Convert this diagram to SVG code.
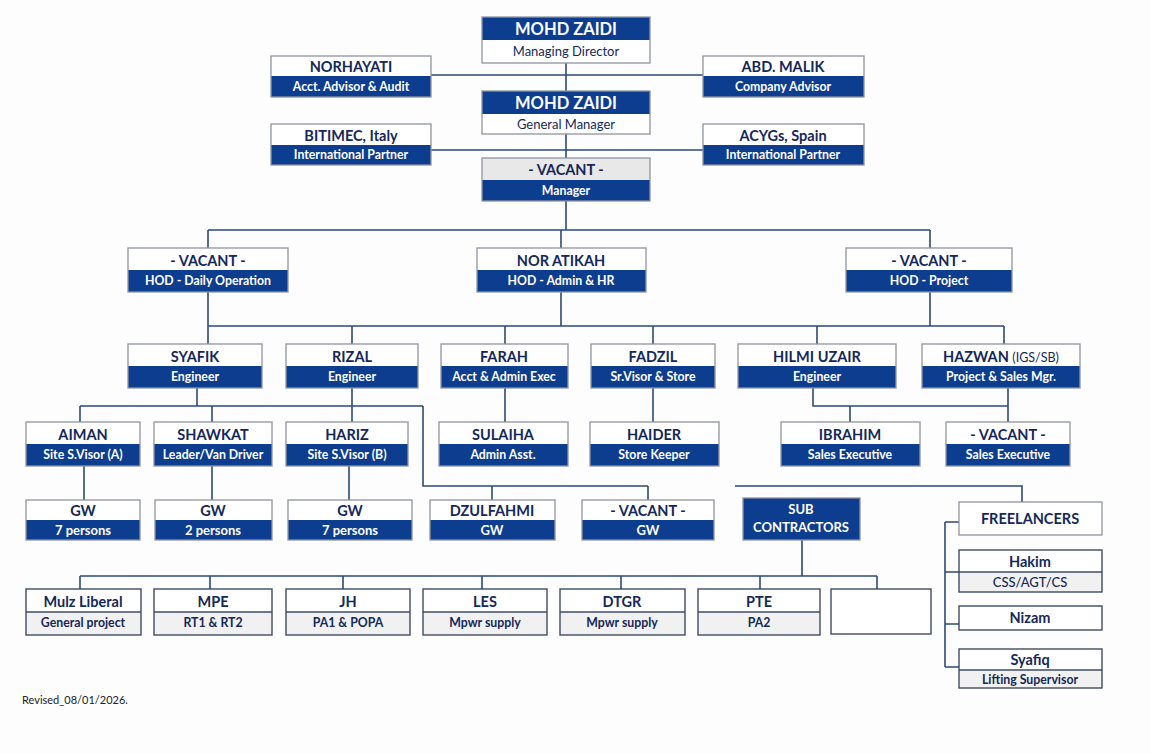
<svg xmlns="http://www.w3.org/2000/svg" width="1151" height="754" viewBox="0 0 1151 754">
<style>
.bg{fill:#fdfdfd}
.w{fill:#ffffff}
.b{fill:#0d3d8f}
.g{fill:#e8e8e8}
.lt{fill:#f1f1f1}
.ol{fill:none;stroke:#8f969f;stroke-width:1.3}
.od{fill:none;stroke:#3e4c63;stroke-width:1.4}
.n{font-family:Lato,"Open Sans",sans-serif;font-weight:bold;font-size:14.5px;fill:#14285a;text-anchor:middle}
.nw{font-family:Lato,"Open Sans",sans-serif;font-weight:bold;font-size:16.5px;fill:#ffffff;text-anchor:middle}
.s{font-family:Lato,"Open Sans",sans-serif;font-weight:bold;font-size:12.3px;fill:#ffffff;text-anchor:middle}
.sn{font-family:Lato,"Open Sans",sans-serif;font-size:13px;fill:#14285a;text-anchor:middle}
.sb{font-family:Lato,"Open Sans",sans-serif;font-weight:bold;font-size:12.3px;fill:#14285a;text-anchor:middle}
.p{font-family:Lato,"Open Sans",sans-serif;font-weight:bold;font-size:13px;fill:#ffffff;text-anchor:middle}
.c{fill:none;stroke:#2c4a74;stroke-width:1.6}
</style>
<rect class="bg" x="0" y="0" width="1151" height="754"/>

<g id="connectors">
<path class="c" d="M431 75H703M566 63V91M431 150H703M566 134V158M566 201V230M208 230H930M208 230V248M561 230V248M930 230V248"/>
<path class="c" d="M208 292V344M561 292V326M930 292V326M208 326H1004M352 326V344M505 326V344M653 326V344M817 326V344M1004 326V344"/>
<path class="c" d="M197 388V406M80 406H423M80 406V422M212 406V422M352 388V422M423 406V486H648M492 486V500M648 486V500M505 388V422M653 388V422M813 388V406H1008M850 406V422M1008 388V422"/>
<path class="c" d="M84 466V500M212 466V500M349 466V500"/>
<path class="c" d="M735 486H1022V502M802 540V576M80 576H877M80 576V589M210 576V589M343 576V589M482 576V589M621 576V589M760 576V589M877 576V589"/>
<path class="c" d="M945 522V667M945 522H959M945 572H959M945 624H959M945 667H959"/>
</g>

<g id="md"><rect class="b" x="482" y="17" width="168" height="23"/><rect class="w" x="482" y="40" width="168" height="23"/><rect class="ol" x="482" y="17" width="168" height="46"/><text class="nw" x="566" y="35">MOHD ZAIDI</text><text class="sn" x="566" y="56">Managing Director</text></g>
<g id="norhayati"><rect class="w" x="271" y="56" width="160" height="20"/><rect class="b" x="271" y="76" width="160" height="21"/><rect class="ol" x="271" y="56" width="160" height="41"/><text class="n" x="351" y="72">NORHAYATI</text><text class="s" x="351" y="91">Acct. Advisor &amp; Audit</text></g>
<g id="abdmalik"><rect class="w" x="703" y="56" width="161" height="20"/><rect class="b" x="703" y="76" width="161" height="21"/><rect class="ol" x="703" y="56" width="161" height="41"/><text class="n" x="783" y="72">ABD. MALIK</text><text class="s" x="783" y="91">Company Advisor</text></g>
<g id="gm"><rect class="b" x="482" y="91" width="168" height="23"/><rect class="w" x="482" y="114" width="168" height="20"/><rect class="ol" x="482" y="91" width="168" height="43"/><text class="nw" x="566" y="109">MOHD ZAIDI</text><text class="sn" x="566" y="129">General Manager</text></g>
<g id="bitimec"><rect class="w" x="271" y="124" width="160" height="21"/><rect class="b" x="271" y="145" width="160" height="20"/><rect class="ol" x="271" y="124" width="160" height="41"/><text class="n" x="351" y="141">BITIMEC, Italy</text><text class="s" x="351" y="159">International Partner</text></g>
<g id="acygs"><rect class="w" x="703" y="124" width="161" height="21"/><rect class="b" x="703" y="145" width="161" height="20"/><rect class="ol" x="703" y="124" width="161" height="41"/><text class="n" x="783" y="141">ACYGs, Spain</text><text class="s" x="783" y="159">International Partner</text></g>
<g id="manager"><rect class="g" x="482" y="158" width="168" height="22"/><rect class="b" x="482" y="180" width="168" height="21"/><rect class="ol" x="482" y="158" width="168" height="43"/><text class="n" x="566" y="175">- VACANT -</text><text class="s" x="566" y="195">Manager</text></g>

<g id="hod-daily"><rect class="w" x="128" y="248" width="160" height="22"/><rect class="b" x="128" y="270" width="160" height="22"/><rect class="ol" x="128" y="248" width="160" height="44"/><text class="n" x="208" y="266">- VACANT -</text><text class="s" x="208" y="285">HOD - Daily Operation</text></g>
<g id="hod-admin"><rect class="w" x="477" y="248" width="169" height="22"/><rect class="b" x="477" y="270" width="169" height="22"/><rect class="ol" x="477" y="248" width="169" height="44"/><text class="n" x="561" y="266">NOR ATIKAH</text><text class="s" x="561" y="285">HOD - Admin &amp; HR</text></g>
<g id="hod-project"><rect class="w" x="846" y="248" width="166" height="22"/><rect class="b" x="846" y="270" width="166" height="22"/><rect class="ol" x="846" y="248" width="166" height="44"/><text class="n" x="929" y="266">- VACANT -</text><text class="s" x="929" y="285">HOD - Project</text></g>

<g id="syafik"><rect class="w" x="128" y="344" width="134" height="22"/><rect class="b" x="128" y="366" width="134" height="22"/><rect class="ol" x="128" y="344" width="134" height="44"/><text class="n" x="195" y="362">SYAFIK</text><text class="s" x="195" y="381">Engineer</text></g>
<g id="rizal"><rect class="w" x="286" y="344" width="132" height="22"/><rect class="b" x="286" y="366" width="132" height="22"/><rect class="ol" x="286" y="344" width="132" height="44"/><text class="n" x="352" y="362">RIZAL</text><text class="s" x="352" y="381">Engineer</text></g>
<g id="farah"><rect class="w" x="441" y="344" width="127" height="22"/><rect class="b" x="441" y="366" width="127" height="22"/><rect class="ol" x="441" y="344" width="127" height="44"/><text class="n" x="504" y="362">FARAH</text><text class="s" x="504" y="381">Acct &amp; Admin Exec</text></g>
<g id="fadzil"><rect class="w" x="591" y="344" width="124" height="22"/><rect class="b" x="591" y="366" width="124" height="22"/><rect class="ol" x="591" y="344" width="124" height="44"/><text class="n" x="653" y="362">FADZIL</text><text class="s" x="653" y="381">Sr.Visor &amp; Store</text></g>
<g id="hilmi"><rect class="w" x="738" y="344" width="158" height="22"/><rect class="b" x="738" y="366" width="158" height="22"/><rect class="ol" x="738" y="344" width="158" height="44"/><text class="n" x="817" y="362">HILMI UZAIR</text><text class="s" x="817" y="381">Engineer</text></g>
<g id="hazwan"><rect class="w" x="922" y="344" width="158" height="22"/><rect class="b" x="922" y="366" width="158" height="22"/><rect class="ol" x="922" y="344" width="158" height="44"/><text class="n" x="1001" y="362">HAZWAN <tspan font-weight="normal" font-size="12.5">(IGS/SB)</tspan></text><text class="s" x="1001" y="381">Project &amp; Sales Mgr.</text></g>

<g id="aiman"><rect class="w" x="26" y="422" width="114" height="22"/><rect class="b" x="26" y="444" width="114" height="22"/><rect class="ol" x="26" y="422" width="114" height="44"/><text class="n" x="83" y="440">AIMAN</text><text class="s" x="83" y="459">Site S.Visor (A)</text></g>
<g id="shawkat"><rect class="w" x="154" y="422" width="118" height="22"/><rect class="b" x="154" y="444" width="118" height="22"/><rect class="ol" x="154" y="422" width="118" height="44"/><text class="n" x="213" y="440">SHAWKAT</text><text class="s" x="213" y="459">Leader/Van Driver</text></g>
<g id="hariz"><rect class="w" x="286" y="422" width="122" height="22"/><rect class="b" x="286" y="444" width="122" height="22"/><rect class="ol" x="286" y="422" width="122" height="44"/><text class="n" x="347" y="440">HARIZ</text><text class="s" x="347" y="459">Site S.Visor (B)</text></g>
<g id="sulaiha"><rect class="w" x="439" y="422" width="129" height="22"/><rect class="b" x="439" y="444" width="129" height="22"/><rect class="ol" x="439" y="422" width="129" height="44"/><text class="n" x="503" y="440">SULAIHA</text><text class="s" x="503" y="459">Admin Asst.</text></g>
<g id="haider"><rect class="w" x="590" y="422" width="129" height="22"/><rect class="b" x="590" y="444" width="129" height="22"/><rect class="ol" x="590" y="422" width="129" height="44"/><text class="n" x="654" y="440">HAIDER</text><text class="s" x="654" y="459">Store Keeper</text></g>
<g id="ibrahim"><rect class="w" x="781" y="422" width="139" height="22"/><rect class="b" x="781" y="444" width="139" height="22"/><rect class="ol" x="781" y="422" width="139" height="44"/><text class="n" x="850" y="440">IBRAHIM</text><text class="s" x="850" y="459">Sales Executive</text></g>
<g id="vacant-sales"><rect class="w" x="946" y="422" width="124" height="22"/><rect class="b" x="946" y="444" width="124" height="22"/><rect class="ol" x="946" y="422" width="124" height="44"/><text class="n" x="1008" y="440">- VACANT -</text><text class="s" x="1008" y="459">Sales Executive</text></g>

<g id="gw-a"><rect class="w" x="26" y="500" width="114" height="20"/><rect class="b" x="26" y="520" width="114" height="20"/><rect class="ol" x="26" y="500" width="114" height="40"/><text class="n" x="83" y="516">GW</text><text class="p" x="83" y="535">7 persons</text></g>
<g id="gw-shawkat"><rect class="w" x="155" y="500" width="117" height="20"/><rect class="b" x="155" y="520" width="117" height="20"/><rect class="ol" x="155" y="500" width="117" height="40"/><text class="n" x="213" y="516">GW</text><text class="p" x="213" y="535">2 persons</text></g>
<g id="gw-b"><rect class="w" x="288" y="500" width="124" height="20"/><rect class="b" x="288" y="520" width="124" height="20"/><rect class="ol" x="288" y="500" width="124" height="40"/><text class="n" x="350" y="516">GW</text><text class="p" x="350" y="535">7 persons</text></g>
<g id="dzulfahmi"><rect class="w" x="430" y="500" width="125" height="20"/><rect class="b" x="430" y="520" width="125" height="20"/><rect class="ol" x="430" y="500" width="125" height="40"/><text class="n" x="492" y="516">DZULFAHMI</text><text class="p" x="492" y="535">GW</text></g>
<g id="vacant-gw"><rect class="w" x="582" y="500" width="132" height="20"/><rect class="b" x="582" y="520" width="132" height="20"/><rect class="ol" x="582" y="500" width="132" height="40"/><text class="n" x="648" y="516">- VACANT -</text><text class="p" x="648" y="535">GW</text></g>

<g id="subcontractors"><rect class="b" x="743" y="498" width="117" height="42"/><rect class="ol" x="743" y="498" width="117" height="42"/><text class="p" x="801" y="514">SUB</text><text class="p" x="801" y="532">CONTRACTORS</text></g>

<g id="mulz"><rect class="w" x="26" y="589" width="115" height="23"/><rect class="lt" x="26" y="612" width="115" height="23"/><rect class="od" x="26" y="589" width="115" height="46"/><path class="od" d="M26 612H141"/><text class="n" x="83" y="607">Mulz Liberal</text><text class="sb" x="83" y="627">General project</text></g>
<g id="mpe"><rect class="w" x="154" y="589" width="118" height="23"/><rect class="lt" x="154" y="612" width="118" height="23"/><rect class="od" x="154" y="589" width="118" height="46"/><path class="od" d="M154 612H272"/><text class="n" x="213" y="607">MPE</text><text class="sb" x="213" y="627">RT1 &amp; RT2</text></g>
<g id="jh"><rect class="w" x="286" y="589" width="124" height="23"/><rect class="lt" x="286" y="612" width="124" height="23"/><rect class="od" x="286" y="589" width="124" height="46"/><path class="od" d="M286 612H410"/><text class="n" x="348" y="607">JH</text><text class="sb" x="348" y="627">PA1 &amp; POPA</text></g>
<g id="les"><rect class="w" x="423" y="589" width="124" height="23"/><rect class="lt" x="423" y="612" width="124" height="23"/><rect class="od" x="423" y="589" width="124" height="46"/><path class="od" d="M423 612H547"/><text class="n" x="485" y="607">LES</text><text class="sb" x="485" y="627">Mpwr supply</text></g>
<g id="dtgr"><rect class="w" x="560" y="589" width="125" height="23"/><rect class="lt" x="560" y="612" width="125" height="23"/><rect class="od" x="560" y="589" width="125" height="46"/><path class="od" d="M560 612H685"/><text class="n" x="622" y="607">DTGR</text><text class="sb" x="622" y="627">Mpwr supply</text></g>
<g id="pte"><rect class="w" x="698" y="589" width="122" height="23"/><rect class="lt" x="698" y="612" width="122" height="23"/><rect class="od" x="698" y="589" width="122" height="46"/><path class="od" d="M698 612H820"/><text class="n" x="759" y="607">PTE</text><text class="sb" x="759" y="627">PA2</text></g>
<g id="empty"><rect class="w" x="831" y="589" width="100" height="45"/><rect class="od" x="831" y="589" width="100" height="45"/></g>

<g id="freelancers"><rect class="w" x="959" y="502" width="143" height="33"/><rect class="ol" x="959" y="502" width="143" height="33"/><text class="n" x="1030" y="524" font-size="16">FREELANCERS</text></g>
<g id="hakim"><rect class="w" x="959" y="550" width="143" height="22"/><rect class="lt" x="959" y="572" width="143" height="20"/><rect class="od" x="959" y="550" width="143" height="42"/><path class="od" d="M959 572H1102"/><text class="n" x="1030" y="567">Hakim</text><text class="sn" x="1030" y="587" font-weight="500">CSS/AGT/CS</text></g>
<g id="nizam"><rect class="w" x="959" y="606" width="143" height="24"/><rect class="od" x="959" y="606" width="143" height="24"/><text class="n" x="1030" y="623">Nizam</text></g>
<g id="syafiq"><rect class="w" x="959" y="649" width="143" height="21"/><rect class="lt" x="959" y="670" width="143" height="18"/><rect class="od" x="959" y="649" width="143" height="39"/><path class="od" d="M959 670H1102"/><text class="n" x="1030" y="665">Syafiq</text><text class="sb" x="1030" y="684" font-size="13.5">Lifting Supervisor</text></g>

<text x="22" y="704" font-family="Lato,'Open Sans',sans-serif" font-size="11" fill="#222">Revised_08/01/2026.</text>
</svg>
